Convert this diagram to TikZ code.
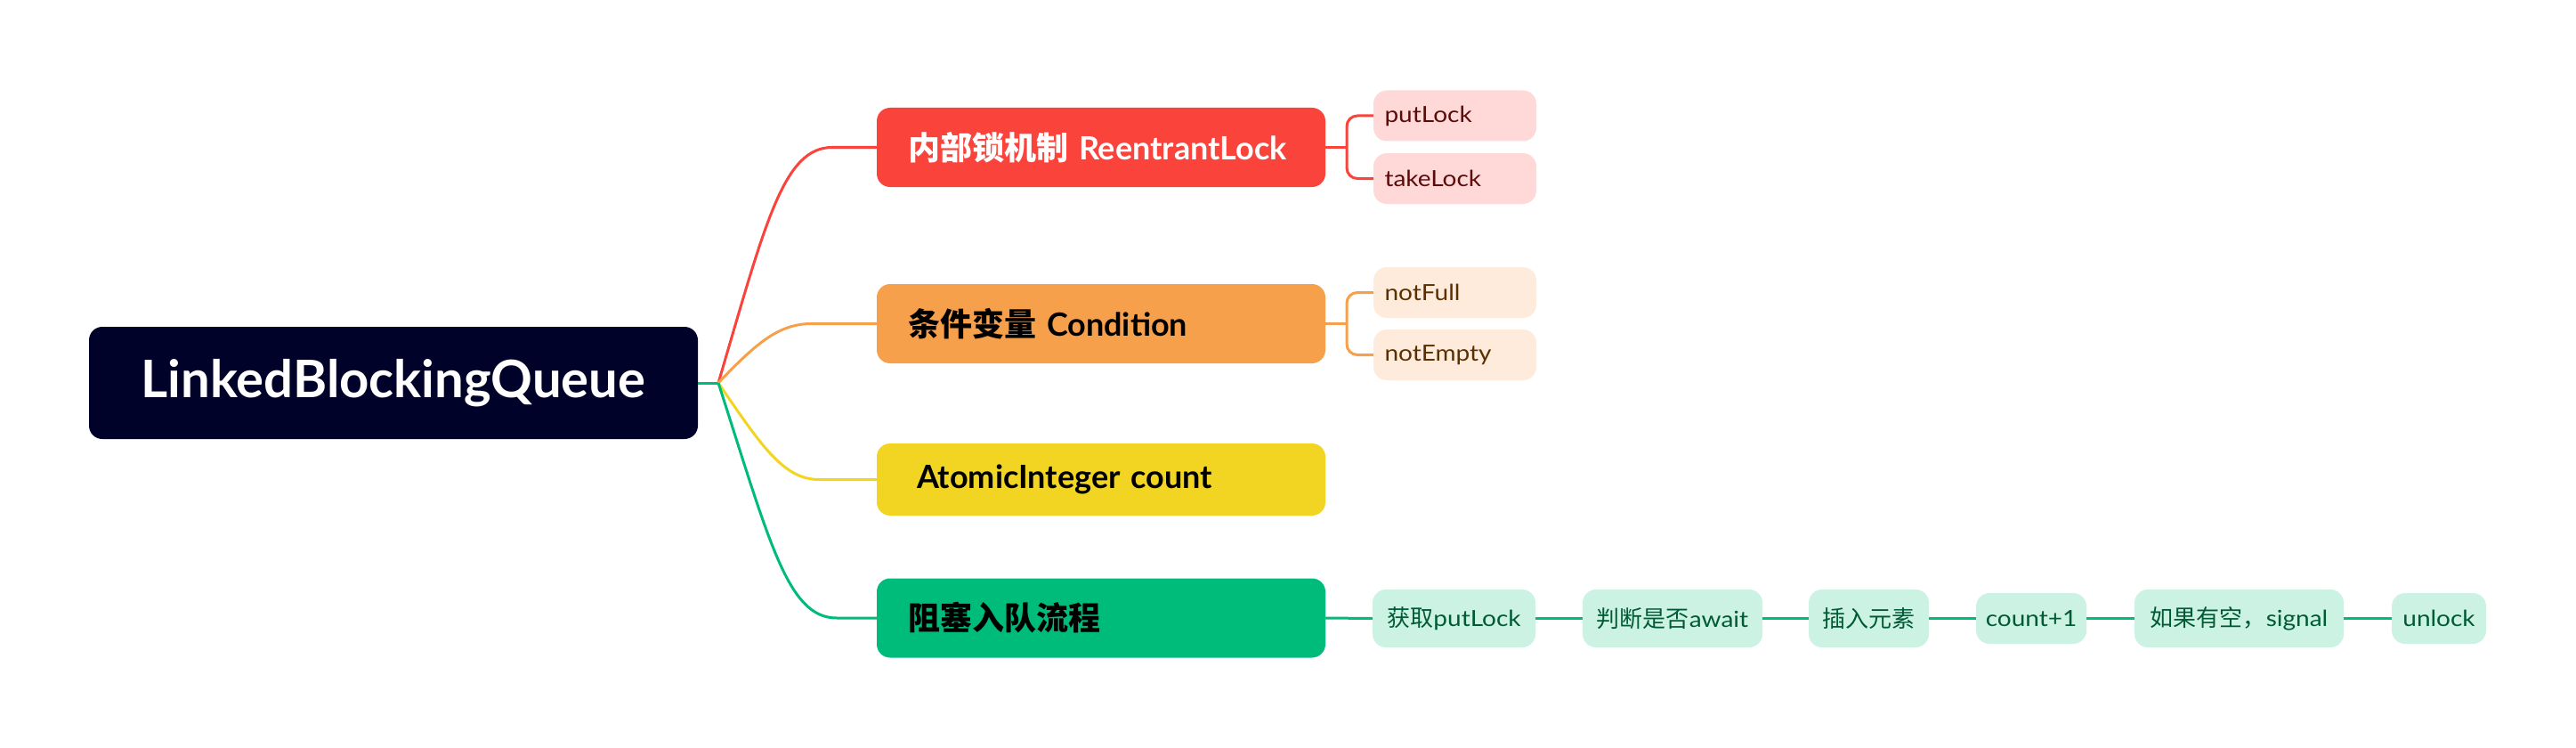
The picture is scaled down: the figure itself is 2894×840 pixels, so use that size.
\documentclass[tikz,border=0pt]{standalone}
\usepackage{fontspec}
\setmainfont{Lato}
\newfontfamily\cjk{Noto Sans CJK SC}
\newfontfamily\leaffont[FakeStretch=1.12]{Lato}
\definecolor{rootc}{HTML}{000229}
\definecolor{redc}{HTML}{F9433B}
\definecolor{orangec}{HTML}{F7A04B}
\definecolor{yellowc}{HTML}{F2D422}
\definecolor{greenc}{HTML}{00BC7B}
\definecolor{redl}{HTML}{FFD9D8}
\definecolor{orangel}{HTML}{FEEBDB}
\definecolor{greenl}{HTML}{CCF2E4}
\definecolor{redt}{HTML}{5C0A0A}
\definecolor{oranget}{HTML}{5A3000}
\definecolor{greent}{HTML}{005A36}
\tikzset{
  rootbox/.style={fill=rootc, rounded corners=15pt, minimum width=684pt, minimum height=126pt,
    inner sep=0pt, text=white, font=\fontsize{58}{60}\selectfont\bfseries},
  mainbox/.style={rounded corners=15pt, minimum height=89pt, text width=434pt, inner xsep=35pt,
    inner ysep=0pt, align=left, font=\fontsize{36}{40}\selectfont\bfseries},
  leafbox/.style={rounded corners=15pt, minimum height=57pt, text width=158pt, inner xsep=12.5pt,
    inner ysep=0pt, align=left, font=\fontsize{25}{28}\leaffont},
  chainbox/.style={rounded corners=15pt, inner sep=0pt, fill=greenl, text=greent,
    font=\fontsize{25}{28}\leaffont},
  conn/.style={line width=3pt},
}
\begin{document}
\begin{tikzpicture}[x=1pt,y=-1pt]
\useasboundingbox (0,0) rectangle (2894,840);
% root
\node[rootbox] (root) at (442,430) {LinkedBlockingQueue};
% main branches
\node[mainbox, fill=redc, text=white] (lock) at (1237,165.5) {{\cjk\bfseries 内部锁机制} ReentrantLock};
\node[mainbox, fill=orangec, text=black] (cond) at (1237,363.5) {{\cjk\bfseries 条件变量} Condition};
\node[mainbox, fill=yellowc, text=black, minimum height=81pt, inner xsep=45pt, text width=414pt] (cnt) at (1237,538.5) {AtomicInteger count};
\node[mainbox, fill=greenc, text=black] (flow) at (1237,694) {{\cjk\bfseries 阻塞入队流程}};
% leaves
\node[leafbox, fill=redl, text=redt] (put) at (1634.5,130) {putLock};
\node[leafbox, fill=redl, text=redt] (take) at (1634.5,200.5) {takeLock};
\node[leafbox, fill=orangel, text=oranget] (full) at (1634.5,328.5) {notFull};
\node[leafbox, fill=orangel, text=oranget] (empty) at (1634.5,398.5) {notEmpty};
% chain
\node[chainbox, minimum width=183pt, minimum height=65pt] (s1) at (1633.5,694.5) {{\cjk\fontsize{26}{28}\selectfont 获取}putLock};
\node[chainbox, minimum width=202pt, minimum height=65pt] (s2) at (1879,694.5) {{\cjk\fontsize{26}{28}\selectfont 判断是否}await};
\node[chainbox, minimum width=135pt, minimum height=65pt] (s3) at (2099.5,694.5) {{\cjk\fontsize{26}{28}\selectfont 插入元素}};
\node[chainbox, minimum width=124pt, minimum height=57pt] (s4) at (2282,694.5) {count+1};
\node[chainbox, minimum width=235pt, minimum height=65pt] (s5) at (2515.5,694.5) {{\cjk\fontsize{26}{28}\selectfont 如果有空，}signal};
\node[chainbox, minimum width=106pt, minimum height=57pt] (s6) at (2740,694.5) {unlock};
% connectors
\coordinate (J) at (807,430);
\draw[conn, greenc] (root.east) -- (J);
\draw[conn, redc] (J) .. controls (860,250) and (880,165.5) .. (935,165.5) -- (lock.west);
\draw[conn, orangec] (J) .. controls (850,385) and (875,363.5) .. (912,363.5) -- (cond.west);
\draw[conn, yellowc] (J) .. controls (855,500) and (880,538.5) .. (920,538.5) -- (cnt.west);
\draw[conn, greenc] (J) .. controls (865,610) and (885,694) .. (940,694) -- (flow.west);
\coordinate (bl) at (1513,165.5);
\coordinate (bc) at (1513,363.5);
\draw[conn, redc] (lock.east) -- (bl);
\draw[conn, redc, rounded corners=12pt] (put.west) -| (bl) |- (take.west);
\draw[conn, orangec] (cond.east) -- (bc);
\draw[conn, orangec, rounded corners=12pt] (full.west) -| (bc) |- (empty.west);
\draw[conn, greenc] (flow.east) -- (s1.west);
\draw[conn, greenc] (s1.east) -- (s2.west);
\draw[conn, greenc] (s2.east) -- (s3.west);
\draw[conn, greenc] (s3.east) -- (s4.west);
\draw[conn, greenc] (s4.east) -- (s5.west);
\draw[conn, greenc] (s5.east) -- (s6.west);
\end{tikzpicture}
\end{document}
